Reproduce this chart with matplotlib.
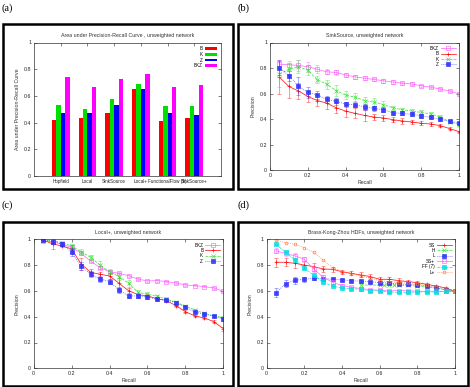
import matplotlib
matplotlib.use("Agg")
import matplotlib.pyplot as plt
from matplotlib.patches import Rectangle
from matplotlib.ticker import FuncFormatter, MultipleLocator
import numpy as np

plt.rcParams['font.family'] = ['Liberation Sans', 'DejaVu Sans']

# ---------------- data ----------------
methods = ["Hopfield", "Local", "SinkSource", "Local+", "FunctionalFlow (5)", "SinkSource+"]
auc_B   = [0.42, 0.435, 0.475, 0.65, 0.415, 0.435]
auc_K   = [0.535, 0.505, 0.58, 0.69, 0.525, 0.525]
auc_Z   = [0.475, 0.47, 0.53, 0.65, 0.47, 0.455]
auc_BKZ = [0.745, 0.665, 0.73, 0.765, 0.67, 0.685]

recall = [0.05, 0.1, 0.15, 0.2, 0.25, 0.3, 0.35, 0.4, 0.45, 0.5,
          0.55, 0.6, 0.65, 0.7, 0.75, 0.8, 0.85, 0.9, 0.95, 1.0]

# (b) SinkSource
ss_BKZ = [0.83, 0.825, 0.82, 0.81, 0.79, 0.77, 0.765, 0.745, 0.73, 0.72,
          0.71, 0.70, 0.69, 0.68, 0.675, 0.66, 0.65, 0.635, 0.62, 0.595]
ss_BKZ_err = [0.035, 0.03, 0.04, 0.04, 0.03, 0.02, 0.02, 0.015, 0.015, 0.015,
              0.015, 0.015, 0.012, 0.012, 0.012, 0.01, 0.01, 0.01, 0.01, 0.008]
ss_B = [0.727, 0.655, 0.62, 0.577, 0.545, 0.525, 0.488, 0.462, 0.444, 0.428,
        0.415, 0.408, 0.395, 0.384, 0.377, 0.366, 0.361, 0.348, 0.325, 0.301]
ss_B_err = [0.13, 0.09, 0.065, 0.04, 0.045, 0.05, 0.04, 0.045, 0.04, 0.04,
            0.025, 0.02, 0.02, 0.02, 0.018, 0.015, 0.015, 0.012, 0.01, 0.008]
ss_K = [0.753, 0.79, 0.81, 0.782, 0.709, 0.673, 0.623, 0.587, 0.571, 0.545,
        0.532, 0.512, 0.488, 0.473, 0.462, 0.452, 0.439, 0.416, 0.379, 0.356]
ss_K_err = [0.1, 0.04, 0.05, 0.04, 0.03, 0.035, 0.04, 0.03, 0.03, 0.025,
            0.03, 0.03, 0.015, 0.015, 0.015, 0.015, 0.015, 0.012, 0.01, 0.01]
ss_Z = [0.803, 0.74, 0.66, 0.608, 0.59, 0.553, 0.538, 0.517, 0.512, 0.494,
        0.483, 0.473, 0.449, 0.444, 0.436, 0.426, 0.413, 0.397, 0.382, 0.369]
ss_Z_err = [0.06, 0.04, 0.07, 0.045, 0.03, 0.03, 0.03, 0.02, 0.02, 0.02,
            0.02, 0.02, 0.015, 0.015, 0.015, 0.015, 0.012, 0.012, 0.01, 0.01]

# (c) Local+
lp_BKZ = [0.987, 0.982, 0.961, 0.938, 0.891, 0.832, 0.78, 0.749, 0.736, 0.718,
          0.692, 0.677, 0.68, 0.672, 0.661, 0.646, 0.641, 0.633, 0.623, 0.597]
lp_B = [0.995, 0.964, 0.948, 0.925, 0.809, 0.744, 0.729, 0.716, 0.659, 0.602,
        0.571, 0.561, 0.54, 0.525, 0.486, 0.439, 0.406, 0.39, 0.362, 0.307]
lp_K = [0.997, 0.99, 0.974, 0.948, 0.904, 0.86, 0.80, 0.749, 0.711, 0.659,
        0.589, 0.574, 0.558, 0.537, 0.512, 0.483, 0.452, 0.426, 0.406, 0.393]
lp_Z = [0.997, 0.982, 0.964, 0.899, 0.793, 0.729, 0.692, 0.672, 0.607, 0.561,
        0.561, 0.553, 0.535, 0.53, 0.509, 0.473, 0.437, 0.419, 0.406, 0.38]
lp_BKZ_err = [0.01, 0.01, 0.01, 0.01, 0.015, 0.01, 0.01, 0.01, 0.008, 0.008,
              0.008, 0.008, 0.008, 0.006, 0.006, 0.006, 0.006, 0.006, 0.006, 0.006]
lp_B_err = [0.01, 0.04, 0.01, 0.03, 0.045, 0.025, 0.02, 0.02, 0.04, 0.02,
            0.015, 0.012, 0.012, 0.012, 0.01, 0.01, 0.01, 0.01, 0.01, 0.015]
lp_K_err = [0.005, 0.01, 0.01, 0.015, 0.02, 0.02, 0.03, 0.02, 0.03, 0.025,
            0.02, 0.015, 0.012, 0.012, 0.01, 0.01, 0.01, 0.01, 0.01, 0.012]
lp_Z_err = [0.005, 0.01, 0.015, 0.03, 0.03, 0.025, 0.02, 0.02, 0.02, 0.015,
            0.015, 0.012, 0.012, 0.01, 0.01, 0.01, 0.01, 0.01, 0.01, 0.012]

# (d) BKZ HDFs
hd_SS = [0.822, 0.822, 0.814, 0.80, 0.788, 0.77, 0.767, 0.749, 0.736, 0.724,
         0.711, 0.69, 0.69, 0.68, 0.672, 0.664, 0.651, 0.638, 0.623, 0.597]
hd_SS_err = [0.035, 0.03, 0.035, 0.03, 0.03, 0.025, 0.02, 0.015, 0.015, 0.02,
             0.02, 0.02, 0.02, 0.018, 0.015, 0.012, 0.012, 0.01, 0.01, 0.005]
hd_H_x = [0.5, 0.6, 0.625, 0.65, 0.675, 0.7, 0.75, 0.8, 0.85, 0.9, 0.95, 1.0]
hd_H = [0.645, 0.645, 0.645, 0.645, 0.645, 0.645, 0.643, 0.637, 0.63, 0.62, 0.61, 0.6]
hd_L = [0.587, 0.656, 0.682, 0.69, 0.698, 0.695, 0.69, 0.685, 0.68, 0.675,
        0.67, 0.665, 0.66, 0.655, 0.65, 0.645, 0.64, 0.625, 0.61, 0.6]
hd_L_err = [0.035, 0.025, 0.025, 0.02, 0.015, 0.015, 0.01, 0.01, 0.01, 0.01,
            0.01, 0.01, 0.01, 0.01, 0.01, 0.01, 0.01, 0.008, 0.008, 0.005]
hd_SSp = [0.91, 0.891, 0.871, 0.845, 0.77, 0.705, 0.667, 0.641, 0.628, 0.618,
          0.61, 0.605, 0.6, 0.602, 0.602, 0.597, 0.597, 0.597, 0.597, 0.597]
hd_SSp_err = [0.02, 0.02, 0.02, 0.02, 0.02, 0.015, 0.01, 0.01, 0.008, 0.008,
              0.006, 0.006, 0.006, 0.006, 0.006, 0.005, 0.005, 0.005, 0.005, 0.005]
hd_FF = [0.961, 0.899, 0.84, 0.775, 0.721, 0.667, 0.638, 0.62, 0.618, 0.612,
         0.602, 0.6, 0.592, 0.589, 0.589, 0.592, 0.592, 0.592, 0.597, 0.597]
hd_Lp = [0.992, 0.974, 0.961, 0.935, 0.899, 0.84, 0.78, 0.749, 0.731, 0.718,
         0.698, 0.68, 0.672, 0.664, 0.659, 0.651, 0.646, 0.633, 0.62, 0.597]

# ---------------- figure ----------------
W, H = 470, 387
fig = plt.figure(figsize=(W / 100, H / 100), dpi=100)

FS = 3.8
RED, GREEN, BLUE, MAG, CYAN, ORANGE = "#ff0000", "#00e000", "#0000ff", "#ff00ff", "#00e0e0", "#ff7030"


def px_axes(l, t, r, b):
    return fig.add_axes([l / W, 1 - b / H, (r - l) / W, (b - t) / H])


def style(ax, xlabel=None, ylabel=None, title=None):
    ax.set_ylim(0, 1)
    ax.yaxis.set_major_locator(MultipleLocator(0.2))
    fmt = FuncFormatter(lambda v, p: "%g" % round(v, 2))
    ax.yaxis.set_major_formatter(fmt)
    ax.tick_params(direction="in", length=2.5, width=0.4, labelsize=FS,
                   top=True, right=True, pad=2, colors="#222222")
    for s in ax.spines.values():
        s.set_linewidth(0.5)
        s.set_color("#333333")
    if xlabel:
        ax.set_xlabel(xlabel, fontsize=FS, labelpad=1.5, color="#333333")
    if ylabel:
        ax.set_ylabel(ylabel, fontsize=FS, labelpad=3, color="#333333")
    if title:
        ax.set_title(title, fontsize=FS, pad=4, color="#333333")


def box(l, t, r, b):
    fig.patches.append(Rectangle((l / W, 1 - b / H), (r - l) / W, (b - t) / H,
                                 transform=fig.transFigure, fill=False,
                                 edgecolor="black", linewidth=1.8))


box(3, 24, 233, 189)
box(238, 24, 468, 189)
box(3, 222, 233, 386)
box(238, 222, 468, 386)

for lab, x, y in [("(a)", 2, 8), ("(b)", 237, 8), ("(c)", 2, 205), ("(d)", 237, 205)]:
    fig.text(x / W, 1 - y / H, lab, fontsize=7.5, family="Liberation Serif",
             va="center", ha="left")

# (a) bars
axA = px_axes(34, 42.5, 221, 176)
xg = np.arange(len(methods))
bw = 1 / 6
for i, (vals, col, lab) in enumerate([(auc_B, RED, "B"), (auc_K, GREEN, "K"),
                                      (auc_Z, BLUE, "Z"), (auc_BKZ, MAG, "BKZ")]):
    axA.bar(xg + (i - 1.5) * bw, vals, width=bw, color=col, label=lab, linewidth=0)
axA.set_xlim(-1, 6)
axA.set_xticks(xg)
axA.set_xticklabels(methods)
style(axA, ylabel="Area under Precision-Recall Curve",
      title="Area under Precision-Recall Curve , unweighted network")
axA.tick_params(axis="x", labelsize=3.3)
axA.legend(loc="upper right", frameon=False, fontsize=FS - 0.5, markerfirst=False,
           handlelength=2.6, handleheight=0.5, labelspacing=0.15,
           borderaxespad=0.4, handletextpad=0.5)


def series(ax, x, y, err, col, marker, label, ls="-", mfc=None, ms=2.2):
    if err is not None:
        ax.errorbar(x, y, yerr=err, fmt="none", ecolor=col, elinewidth=0.4,
                    capsize=1.2, capthick=0.4, alpha=0.7)
    ax.plot(x, y, color=col, lw=0.55, ls=ls, marker=marker, ms=ms,
            mfc=mfc if mfc else col, mec=col, mew=0.5, label=label, alpha=0.9)


def line_style(ax, title):
    ax.set_xlim(0, 1)
    ax.xaxis.set_major_locator(MultipleLocator(0.2))
    ax.xaxis.set_major_formatter(FuncFormatter(lambda v, p: "%g" % round(v, 2)))
    style(ax, xlabel="Recall", ylabel="Precision", title=title)
    ax.legend(loc="upper right", frameon=False, fontsize=FS - 0.5, markerfirst=False,
              handlelength=3.2, labelspacing=0.1, borderaxespad=0.3,
              handletextpad=0.5)


# (b)
axB = px_axes(270, 42.5, 459, 170)
series(axB, recall, ss_BKZ, ss_BKZ_err, "#ff60ff", "s", "BKZ", mfc="none")
series(axB, recall, ss_B, ss_B_err, RED, "+", "B")
series(axB, recall, ss_K, ss_K_err, "#30e030", "x", "K", ls="--")
series(axB, recall, ss_Z, ss_Z_err, "#3030ff", "s", "Z", ls=":")
line_style(axB, "SinkSource, unweighted network")

# (c)
axC = px_axes(33.7, 239.3, 223.3, 368.3)
series(axC, recall, lp_BKZ, lp_BKZ_err, "#ff60ff", "s", "BKZ", mfc="none")
series(axC, recall, lp_B, lp_B_err, RED, "+", "B")
series(axC, recall, lp_K, lp_K_err, "#30e030", "x", "K", ls="--")
series(axC, recall, lp_Z, lp_Z_err, "#3030ff", "s", "Z", ls=":")
line_style(axC, "Local+, unweighted network")

# (d)
axD = px_axes(266.7, 239.3, 455, 368.3)
series(axD, recall, hd_SS, hd_SS_err, RED, "+", "SS")
series(axD, hd_H_x, hd_H, None, "#30e030", "x", "H", ls="--")
series(axD, recall, hd_L, hd_L_err, "#3030ff", "s", "L", ls=":")
series(axD, recall, hd_SSp, hd_SSp_err, "#ff60ff", "s", "SS+", mfc="none")
series(axD, recall, hd_FF, None, CYAN, "s", "FF (7)", ls="--")
series(axD, recall, hd_Lp, None, ORANGE, "o", "L+", ls=":", mfc="none", ms=2.0)
line_style(axD, "Brass-Kong-Zhou HDFs, unweighted network")

fig.savefig("out.png", dpi=100)
